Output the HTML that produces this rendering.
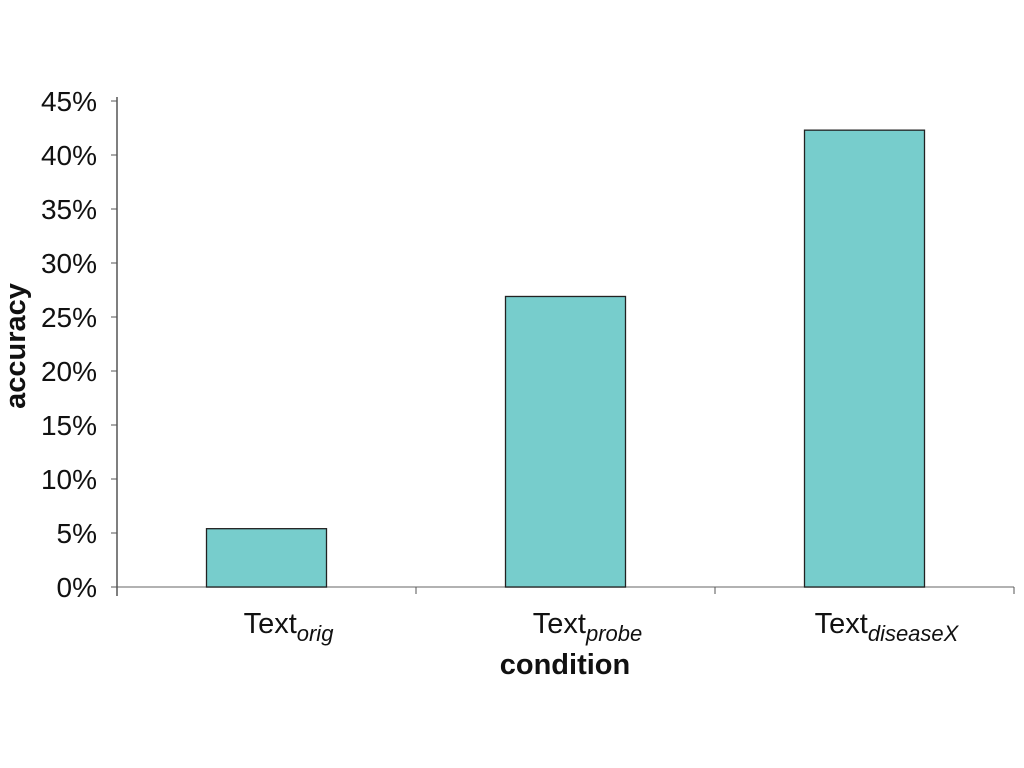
<!DOCTYPE html>
<html><head><meta charset="utf-8"><style>
html,body{margin:0;padding:0;background:#fff;}
svg{display:block;font-family:"Liberation Sans",sans-serif;}
</style></head><body>
<svg id="chart" width="1024" height="768"></svg>
<script>
const categories = ["orig", "probe", "diseaseX"];
const values = [5.4, 26.9, 42.3];
const yTicks = [0, 5, 10, 15, 20, 25, 30, 35, 40, 45];
const NS = "http://www.w3.org/2000/svg";
const svg = document.getElementById("chart");
const x0 = 117, x1 = 1014, yBase = 587, pxPer = 54 / 5;
const y = v => yBase - v * pxPer;
const band = (x1 - x0) / categories.length;
function mk(tag, attrs, parent) {
  const e = document.createElementNS(NS, tag);
  for (const k in attrs) e.setAttribute(k, attrs[k]);
  (parent || svg).appendChild(e);
  return e;
}
const xl = mk("line", {x1: x0, y1: yBase, x2: x1, y2: yBase, stroke: "#999", "stroke-width": 1.5});


for (let i = 1; i <= categories.length; i++) {
  const t = mk("line", {x1: x0 + band * i, y1: yBase, x2: x0 + band * i, y2: yBase + 7, stroke: "#555", "stroke-width": 1});
  
  
}
const yl = mk("line", {x1: x0, y1: y(45) - 4, x2: x0, y2: yBase + 9, stroke: "#555", "stroke-width": 1.5});


yTicks.forEach(v => {
  const t = mk("line", {x1: x0 - 6, y1: y(v), x2: x0, y2: y(v), stroke: "#555", "stroke-width": 1});
  
  
  const l = mk("text", {x: x0 - 20, y: y(v) + 10, "text-anchor": "end", "font-size": 28, fill: "#111"});
  l.textContent = v + "%";
  
  
});
values.forEach((v, i) => {
  const cx = x0 + band * (i + 0.5);
  const b = mk("rect", {x: cx - 60, y: y(v), width: 120, height: yBase - y(v), fill: "#77cdcc", stroke: "#222", "stroke-width": 1.3});
  
  
  const t = mk("text", {x: cx + 22, y: 633, "text-anchor": "middle", "font-size": 29, fill: "#111"});
  
  
  const a = mk("tspan", {}, t); a.textContent = "Text";
  const s = mk("tspan", {"font-size": 22, "font-style": "italic", dy: 8}, t); s.textContent = categories[i];
});
const xt = mk("text", {x: 565, y: 674, "text-anchor": "middle", "font-size": 29, "font-weight": "bold", fill: "#111"});
xt.textContent = "condition";


const yt = mk("text", {x: 0, y: 0, "text-anchor": "middle", "font-size": 29, "font-weight": "bold", fill: "#111", transform: "translate(25,346) rotate(-90)"});
yt.textContent = "accuracy";


</script>
</body></html>
